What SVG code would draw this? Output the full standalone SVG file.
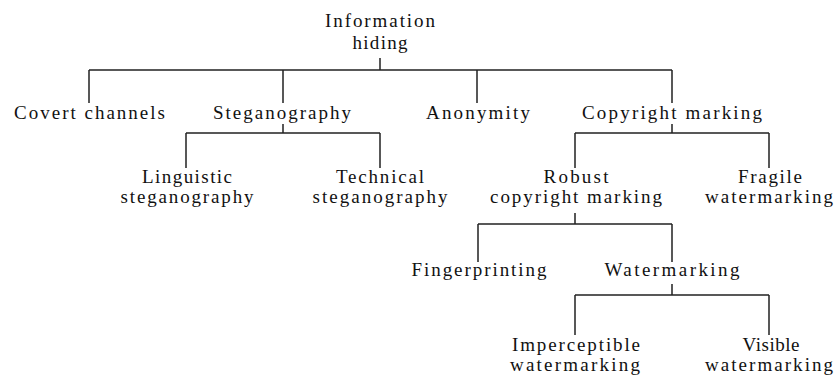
<svg xmlns="http://www.w3.org/2000/svg" width="836" height="376" viewBox="0 0 836 376">
<style>
text{font-family:"Liberation Serif","DejaVu Serif",serif;font-size:19px;fill:#111;text-anchor:middle}
.c path{stroke:#222;stroke-width:1.5;fill:none}
</style>
<rect width="836" height="376" fill="#fff"/>
<g class="c" id="connectors">
<path d="M380,58V70M89,70H672M89,70V103M283,70V103M477,70V103M672,70V103"/>
<path d="M283,124V133M186,133H380M186,133V168M380,133V168"/>
<path d="M672,124V133M575,133H769M575,133V168M769,133V168"/>
<path d="M575,213V224M478,224H672M478,224V262M672,224V262"/>
<path d="M672,284V295M575,295H769M575,295V335M769,295V335"/>
</g>
<g id="root"><text x="380" y="27" textLength="110">Information</text><text x="380" y="49" textLength="55">hiding</text></g>
<g id="covert"><text x="89.5" y="119" textLength="151">Covert channels</text></g>
<g id="steganography"><text x="282" y="119" textLength="138">Steganography</text></g>
<g id="anonymity"><text x="478" y="119" textLength="104">Anonymity</text></g>
<g id="copyright"><text x="672" y="119" textLength="180">Copyright marking</text></g>
<g id="linguistic"><text x="187" y="183" textLength="90">Linguistic</text><text x="187" y="203" textLength="133">steganography</text></g>
<g id="technical"><text x="380" y="183" textLength="88">Technical</text><text x="380" y="203" textLength="135">steganography</text></g>
<g id="robust"><text x="576" y="183" textLength="65">Robust</text><text x="576" y="203" textLength="172">copyright marking</text></g>
<g id="fragile"><text x="770" y="183" textLength="64">Fragile</text><text x="769" y="203" textLength="128">watermarking</text></g>
<g id="fingerprinting"><text x="479" y="276" textLength="135">Fingerprinting</text></g>
<g id="watermarking"><text x="672" y="276" textLength="135">Watermarking</text></g>
<g id="imperceptible"><text x="576" y="351" textLength="128">Imperceptible</text><text x="575" y="371" textLength="130">watermarking</text></g>
<g id="visible"><text x="771" y="351" textLength="57">Visible</text><text x="769" y="371" textLength="128">watermarking</text></g>
</svg>
